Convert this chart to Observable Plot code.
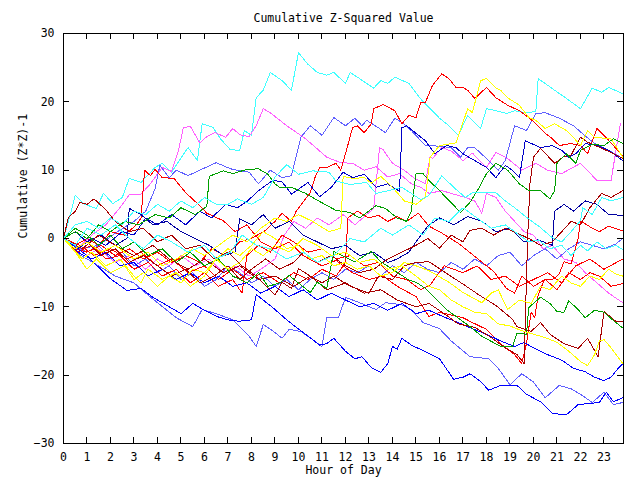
<!DOCTYPE html>
<html><head><meta charset="utf-8">
<script src="https://cdn.jsdelivr.net/npm/d3@7"></script>
<script src="https://cdn.jsdelivr.net/npm/@observablehq/plot@0.6"></script>
<style>
body{margin:0;background:#fff;}
svg path{shape-rendering:crispEdges}
</style></head><body><div id="chart"></div>
<script>
const hourTicks = [0,1,2,3,4,5,6,7,8,9,10,11,12,13,14,15,16,17,18,19,20,21,22,23];
const valueTicks = [-30,-20,-10,0,10,20,30];
const titleText = "Cumulative Z-Squared Value";
const xLabel = "Hour of Day";
const yLabel = "Cumulative (Z*Z)-1";

const cyan1 = [[0,0],[0.25,3],[0.5,6.3],[0.9,5],[1.4,4.4],[1.7,6.6],[2.1,5.1],[2.5,6],[2.8,8.8],[3.3,8.2],[3.9,10.4],[4.2,11],[4.6,9.7],[5.3,13.3],[5.7,11.4],[5.9,16.8],[6.35,16.3],[6.7,14.5],[7.1,13],[7.5,12.9],[7.7,15.8],[8,15.1],[8.2,20.6],[8.5,21.7],[8.8,24.3],[9.3,23.1],[9.7,21.7],[10,27.2],[10.4,25.5],[10.8,24.3],[11.2,23.9],[11.5,24.3],[12,22.7],[12.2,24.3],[12.6,23.4],[13.2,22],[13.5,23.1],[13.8,22.7],[14.1,23.6],[14.7,22.7],[15.25,20.2],[15.55,19.2],[16,17.6],[16.4,16.5],[16.8,15.1],[17.2,18],[17.75,16.1],[18,19],[18.4,18.7],[18.85,18.3],[19.2,18.7],[19.7,18.4],[20.1,18.6],[20.2,23.4],[20.9,21.7],[21.4,20.5],[22,19],[22.5,22],[22.9,21.4],[23.2,22.1],[23.8,21.2]];
const magenta1 = [[0,0],[0.6,-1.5],[1.2,0.5],[1.8,2],[2.4,4.5],[2.8,6.4],[3.3,6.5],[3.7,8],[4.2,10.4],[4.6,9.8],[4.9,13],[5.1,16.2],[5.4,16.4],[5.8,14],[6.1,14.9],[6.45,15.5],[6.9,14.8],[7.2,16.1],[7.5,15.2],[7.9,14.9],[8.2,16.5],[8.5,19],[8.8,18.4],[9.5,16.5],[10.3,14.6],[11.2,11.9],[11.8,11.1],[12.3,11],[12.8,10],[13.3,10.5],[13.8,9],[14.3,9.5],[14.8,8],[15.2,7.5],[15.55,6.6],[16.1,7],[16.5,6.6],[17.1,6],[17.5,5.5],[17.8,3.7],[18,6.6],[18.4,6],[18.8,4],[19.2,2.5],[19.6,1],[20,0.5],[20.4,-1.5],[20.8,-1],[21.3,-3],[21.8,-3.5],[22.2,-5],[22.7,-6.5],[23.2,-8],[23.8,-9.4]];
const magenta2 = [[0,0],[0.5,-1],[1,-2.5],[1.5,-1.5],[2.2,-3.5],[2.8,-2.5],[3.5,-4.5],[4,-3],[4.5,-4],[5,-2.5],[5.6,-4],[6.2,-3],[6.8,-5],[7.3,-4],[7.9,-5.5],[8.4,-4.5],[9,-3],[9.4,0.5],[9.8,2.5],[10.3,1.5],[10.8,3],[11.3,2],[11.9,3.5],[12.4,2],[12.9,3.5],[13.2,4.4],[13.45,13.3],[13.6,13],[14,11],[14.5,10],[14.9,8.9],[15.4,8],[15.6,12],[15.7,11.7],[16.1,13.3],[16.5,12.8],[17,11.4],[17.4,12.5],[18,10.4],[18.4,12.6],[18.9,11.7],[19.5,10],[20.1,11],[20.6,10],[21.2,9.5],[22,11],[22.7,8.5],[23.3,8.5],[23.7,16.8]];
const lightblue1 = [[0,0],[0.7,-1.5],[1.5,-1],[2.3,1],[3,2.5],[3.5,4],[3.9,7.3],[4.1,10.7],[4.5,8.9],[4.8,10],[5.3,9.2],[5.8,10],[6.5,11.1],[6.9,10.5],[7.2,10.1],[7.9,9.7],[8.3,8],[8.8,10],[9.3,8.9],[9.7,9.2],[10.1,14.8],[10.5,16.5],[11,15.1],[11.5,17.7],[12,16.5],[12.4,17.6],[12.7,16.5],[12.9,17.3],[13.4,16.2],[13.7,15.5],[14.1,17.6],[14.4,17],[14.8,15.8],[15.4,13.6],[15.55,13.6],[16,13.5],[16.5,13.3],[16.9,11.9],[17.2,13.3],[17.5,13.3],[18,11.7],[18.5,10],[18.8,11.4],[19.1,15.3],[19.2,16.5],[19.7,15.8],[20.1,18.3],[20.5,18.4],[21.1,17.6],[21.7,16.5],[22.1,15.3],[22.6,13.9],[23.2,12.9],[23.8,11.7]];
const lightblue2 = [[0,0],[0.7,-2.4],[1.5,-4],[2.2,-5.5],[3,-6.5],[3.5,-8],[4,-9.4],[4.8,-11.6],[5.5,-12.9],[5.9,-10.4],[6.5,-11],[7.2,-11.9],[7.5,-12.9],[7.9,-14.3],[8.2,-15.8],[8.5,-12.6],[8.9,-13.5],[9.3,-14.6],[9.6,-13.3],[10.1,-13.6],[10.6,-14.8],[11,-15.8],[11.2,-11.6],[11.7,-11.6],[12,-8.6],[12.6,-9.4],[13.3,-10.4],[13.7,-9.4],[14.4,-9.7],[14.8,-10.4],[15.3,-12.3],[16,-13.2],[16.5,-15],[17.3,-17.3],[18.1,-17.6],[18.5,-19],[19,-21.4],[19.5,-19.8],[20,-21],[20.5,-23.3],[21.1,-21.5],[21.6,-22],[22,-22.8],[22.5,-24],[23,-22.5],[23.4,-24.3],[23.8,-24]];
const lightblue3 = [[0,0],[0.5,-1],[1,-2],[1.5,-1],[2,-3],[2.5,-2],[3,-4],[3.5,-3],[4,-5],[4.5,-4],[5,-6],[5.5,-5],[6,-7],[6.5,-6],[7,-4],[7.5,-5],[8,-6.5],[8.5,-5.5],[9,-7],[9.5,-6],[10,-7.5],[10.5,-6],[11,-5],[11.5,-6],[12,-4.5],[12.5,-5],[13,-4],[13.5,-5.5],[14,-4],[14.5,-5],[15,-3.5],[15.5,-4.5],[16,-5],[16.5,-3.5],[17,-4.5],[17.5,-3],[18,-4],[18.5,-2.5],[19,-2],[19.5,-4],[20,-2.5],[20.5,-1.5],[21,-3],[21.5,-1.5],[22,-0.5],[22.5,-1],[23,-1.5],[23.5,-0.8],[23.8,0]];
const red1 = [[0,0],[0.5,-1.5],[1,-2],[1.6,-1],[2.2,-2.5],[2.8,-1.5],[3.4,-3],[4,-2],[4.6,-3.5],[5.2,-2.5],[5.8,-3.5],[6.3,-1.5],[6.9,-2.5],[7.5,-0.5],[8,0],[8.6,1.2],[9,2.5],[9.3,3.7],[9.7,2.5],[9.9,4],[10.5,6.7],[10.7,8.9],[10.9,10.4],[11.2,10.4],[11.6,11],[11.8,10],[12,12.4],[12.3,16.2],[12.5,16.5],[12.8,15.5],[13.1,16.8],[13.2,19],[13.6,19.6],[14.1,18.7],[14.4,16.8],[14.7,18],[15,17.7],[15.2,19.9],[15.4,19.9],[15.7,22.4],[16.1,24.1],[16.4,23.4],[16.7,22.1],[17,22.1],[17.2,21.7],[17.5,20.5],[18,22.1],[18.4,20.6],[18.9,19.5],[19.4,18.7],[19.8,17.7],[20.1,16.8],[20.5,15.4],[20.8,14.6],[21.1,13.6],[21.6,13.9],[22,13.6],[22.3,12.4],[22.7,16.1],[23,15.1],[23.4,13.6],[23.8,12.1]];
const red2 = [[0,0],[0.5,-1],[1,0],[1.5,-1],[2,1],[2.6,0.5],[3.1,2],[3.3,3],[3.45,10],[3.7,9.2],[3.9,10.1],[4.2,8.9],[4.7,8.8],[5.2,6.7],[5.8,4.8],[6.1,3.7],[6.8,2.6],[7.3,1],[7.8,2],[8.4,-0.5],[9,-1.5],[9.6,-0.5],[10.2,-2.5],[11,-4],[11.6,-3.2],[12.3,-5],[13,-6],[13.6,-5.5],[14.2,-7],[15,-8.5],[15.55,-11.4],[16,-10.8],[17,-11.6],[17.4,-12.3],[18,-13.3],[18.6,-15.4],[19.2,-17],[19.5,-18.3],[19.7,-15.4],[19.9,-10.8],[20.05,-11.6],[20.2,-8.3],[20.45,-6.1],[20.9,-5.9],[21.1,-5.1],[21.3,-3.4],[21.6,-3.7],[21.9,0],[22,2.6],[22.5,1.5],[22.8,1],[23.2,1.8],[23.8,1.1]];
const red3 = [[0,0],[0.7,-1],[1.3,-2.5],[2,-1.5],[2.7,-3],[3.3,-2],[4,-4],[4.6,-3],[5.3,-5],[6,-4],[6.6,-6],[7.2,-4.5],[7.8,-6],[8.5,-5],[9.2,-6.5],[9.8,-5],[10.4,-6],[11,-4.5],[11.6,-5.5],[12,-3.5],[12.1,3],[12.5,4],[13,3],[13.4,3.4],[13.8,2.5],[14.2,3.2],[14.6,2.5],[15.1,3.7],[15.55,1.8],[16,1],[16.8,-0.7],[17.6,-2.9],[18.3,-4.8],[18.85,-7.3],[19.2,-8],[19.5,-5.5],[20,-7],[20.5,-6],[21,-7.5],[21.5,-5],[22,-6],[22.4,-5],[22.8,-5.5],[23.3,-7],[23.8,-6.6]];
const red4 = [[0,0],[0.6,-2],[1.2,-1],[1.8,-3],[2.4,-2.5],[3,-4.5],[3.6,-3.5],[4.2,-5.5],[4.8,-4.5],[5.4,-6.5],[6,-5],[6.6,-7],[7.2,-6],[7.6,-8],[7.8,-2.5],[8.3,-1],[8.8,-2],[9.3,0.5],[9.8,-0.5],[10.4,-2],[11,-1.5],[11.6,-3],[12.2,-2.5],[12.8,-4],[13.4,-3.5],[14,-5.5],[14.6,-6],[15.2,-7.5],[15.6,-6.8],[16.2,-4],[17,-5],[17.6,-4],[18.2,-6],[18.8,-5.5],[19.4,-7],[20,-6],[20.6,-5],[21.2,-6.5],[21.8,-4],[22.4,-3],[23,-4.5],[23.8,-3]];
const blue1 = [[0,0],[0.7,-2.2],[1.1,-2.9],[2,-5.9],[2.7,-7.6],[3.3,-7.3],[3.8,-8.6],[4.5,-10],[5,-11],[5.5,-9.5],[6,-10.5],[6.6,-11.5],[7.1,-12],[7.5,-12.1],[8,-11.9],[8.2,-8.2],[8.9,-10.1],[9.5,-11.9],[9.9,-13],[10.3,-14],[10.9,-15.6],[11.2,-15.4],[11.5,-14.6],[12,-16.5],[12.4,-17.6],[12.7,-17.3],[13.1,-18.9],[13.5,-19.6],[13.8,-18.3],[14,-15.8],[14.2,-16.2],[14.4,-14.6],[14.8,-15.6],[15.3,-16.4],[16,-17.6],[16.6,-20.6],[17,-20.3],[17.3,-19.8],[17.7,-20.8],[18.1,-22.2],[18.6,-21.5],[19.3,-21.5],[19.7,-22.8],[20.3,-23.9],[20.8,-25.6],[21.4,-25.8],[21.9,-24.3],[22.8,-24],[23.1,-22.5],[23.4,-23.9],[23.8,-23.3]];
const blue2 = [[0,0],[0.6,-1.5],[1.2,0],[1.8,-1],[2.5,1],[3,0.5],[3.5,3],[4,2],[4.6,3.5],[5.2,2],[5.8,4],[6.3,3],[6.9,5],[7.4,4.5],[7.8,5.4],[8.3,7],[8.9,8.5],[9.3,8.3],[9.7,6.5],[10,7.2],[10.4,8.2],[10.9,6.1],[11.4,7.5],[11.9,9.7],[12.3,8.9],[12.8,9.4],[13.3,7.5],[13.8,8],[14.3,6.9],[14.4,16.2],[14.6,16.5],[15.4,14.3],[15.8,12.4],[16.3,13.6],[16.7,13.3],[17,12.4],[17.5,11.4],[18,10.4],[18.4,8.9],[18.8,10.7],[19.1,10],[19.4,8.9],[19.65,14.3],[20.3,13.3],[20.8,13.6],[21.2,12.9],[21.5,11.9],[21.8,12.4],[22.2,13.9],[22.75,13.6],[23.2,12.9],[23.8,11.4]];
const blue3 = [[0,0],[0.6,-1.5],[1.2,-3],[1.8,-2],[2.4,-4],[3,-3.5],[3.6,-5.5],[4.2,-4.5],[4.8,-6],[5.4,-5],[6,-6.5],[6.6,-5.5],[7.2,-7],[7.8,-6.5],[8.4,-8],[9,-7],[9.6,-8.5],[10.2,-7.5],[10.8,-9],[11.4,-8],[12,-9],[12.6,-10],[13.2,-9.5],[13.8,-10.5],[14.4,-9.5],[15,-11],[15.55,-10.5],[16.2,-11.5],[16.8,-12.3],[17.4,-13.2],[18,-14],[18.6,-15],[19.2,-15.8],[19.6,-15.2],[20,-16],[20.6,-17],[21.2,-17.8],[21.7,-19],[22.2,-19.5],[22.6,-20.3],[23,-20.8],[23.3,-20.3],[23.6,-19],[23.8,-18.3]];
const navy1 = [[0,0],[0.5,1],[1,-0.5],[1.6,0.5],[2.2,-1],[2.7,0],[2.8,4.4],[3.3,3.5],[3.8,2],[4.4,2.5],[5,1],[5.6,0],[6.2,-1],[6.8,-2.5],[7.3,-2],[7.5,2.9],[8,2],[8.5,3.5],[9,1.5],[9.6,2.5],[10.2,0.5],[10.8,-0.5],[11.4,-1.5],[12,-1],[12.6,-2.5],[13.2,-2],[13.8,-3.5],[14.2,-3],[14.7,-2],[15,-0.5],[15.5,1.8],[16,3],[16.6,2],[17.2,3.2],[17.8,2.5],[18.4,1],[19,1.5],[19.6,-0.5],[20.2,-0.2],[20.8,-1],[20.9,4],[21.3,5],[21.7,4],[22.2,5.5],[22.7,5],[23.2,3.5],[23.8,3.4]];
const darkred1 = [[0,0],[0.8,-1.5],[1.5,0.5],[2.2,-1],[3,-2.5],[3.8,-1],[4.5,-3],[5.3,-4.5],[6,-3],[6.8,-5],[7.5,-4],[8.3,-6],[9,-5.5],[9.8,-7],[10.5,-5.5],[11.2,-7.5],[12,-6.5],[12.8,-8],[13.5,-7.5],[14.2,-9],[15,-10],[15.55,-9.5],[16.2,-11],[16.8,-12.5],[17.5,-13],[18.2,-14.5],[18.8,-16],[19.3,-17],[19.6,-18.3],[19.75,0.1],[19.85,8],[20,11.9],[20.3,13.2],[20.9,11],[21.3,12],[21.6,12.2],[22,14.8],[22.3,14.1],[23.1,12.9],[23.8,11.7]];
const darkred2 = [[0,0],[0.2,3],[0.5,4],[0.7,5.3],[1,5],[1.3,5.8],[1.8,4.2],[2.2,2.5],[2.8,1],[3.4,1.5],[4,-0.5],[4.6,0.5],[5.2,-1.5],[5.8,-1],[6.4,-3],[7,-2],[7.6,-4],[8.2,-5.5],[8.6,-6.9],[9,-8.3],[9.3,-6.4],[9.7,-7.3],[10,-4.4],[10.5,-5.5],[11,-6.5],[11.5,-5.5],[12.2,-7],[13,-8],[13.4,-5.5],[14,-6],[14.5,-4],[15,-3.5],[15.55,-3.4],[16.3,-5.1],[17.1,-6.9],[17.7,-8.3],[18.4,-9.8],[19.1,-11.8],[19.3,-12.9],[19.9,-13.6],[20.3,-12.3],[20.7,-14],[21.3,-15.4],[21.9,-16.1],[22.3,-14.6],[22.75,-17.3],[23,-10.7],[23.5,-12.1],[23.8,-12.1]];
const darkred3 = [[0,0],[0.5,-1.5],[1,-0.5],[1.6,-2.5],[2.2,-1.5],[2.8,-3.5],[3.4,-2.5],[4,-4],[4.6,-5.5],[5.2,-4.5],[5.8,-6.5],[6.4,-5.5],[7,-4],[7.5,-6],[8,-4.5],[8.6,-3],[9.2,-4.5],[9.8,-3.5],[10.2,-2],[10.8,-3.5],[11.4,-2.5],[12,-4],[12.6,-5],[13.2,-4.5],[13.8,-3],[14.4,-2],[15,-1],[15.5,0],[16,-1.4],[16.5,0.5],[17,-0.5],[17.3,1.2],[17.8,1.5],[18.3,0.5],[18.8,1.5],[19.3,0.8],[19.8,0],[20.3,-1],[20.8,-0.5],[21.2,1],[21.6,2.5],[22,2],[22.4,4.5],[22.9,6.6],[23.3,6],[23.8,7]];
const green1 = [[0,0],[0.5,1],[1,0],[1.5,2],[2,1],[2.6,2.5],[3.2,2],[3.9,3.5],[4.5,3],[5,4.5],[5.6,3.5],[6.1,4.7],[6.2,9.1],[6.8,9.9],[7.2,9.5],[7.8,10.1],[8.3,10.2],[8.7,9.4],[9,8],[9.2,7.5],[9.7,7.5],[10.3,6.6],[10.8,5.6],[11.6,4.1],[12.2,3.8],[12.6,3],[13.3,4.8],[13.7,4.4],[14.2,3],[14.6,2.5],[14.8,4],[15,9.5],[15.3,9.5],[15.55,8.5],[16,7],[16.9,3.8],[17.3,5.3],[17.7,7.5],[18,9.5],[18.4,11],[18.9,10],[19.4,8],[19.8,7],[20.3,7],[20.7,5.8],[20.9,7],[21,11],[21.4,12.4],[21.8,11],[22,12.9],[22.5,13.8],[23,13.6],[23.4,14.6],[23.8,13.9]];
const green2 = [[0,0],[0.5,1.5],[1,0.5],[1.5,-1],[2,0.5],[2.5,-1.5],[3,-0.5],[3.6,-2.5],[4.2,-1.5],[4.8,-3.5],[5.4,-2],[6,-4],[6.6,-3],[7.2,-5.5],[7.8,-6.5],[8.3,-5],[8.7,-7],[9.2,-6.5],[9.6,-5.4],[10.5,-7.9],[10.8,-6.4],[11.2,-7.3],[11.5,-1.9],[11.9,-2.6],[12.4,-3.4],[13.1,-1.9],[13.5,-3.4],[14,-4.5],[14.7,-6.1],[15,-6.4],[15.4,-7.3],[16,-9.4],[16.3,-10.4],[17.3,-12.9],[17.8,-14.3],[18.6,-15.8],[19.1,-15.8],[19.3,-13.9],[19.7,-14],[19.8,-10.1],[20.3,-8.6],[20.7,-9.5],[21,-10.7],[21.3,-10.8],[21.5,-9.1],[21.9,-10.4],[22.2,-11.6],[22.6,-10.5],[23,-10.8],[23.4,-12],[23.8,-13.1]];
const yellow1 = [[0,0],[0.5,-1.5],[1,-0.5],[1.6,-2],[2.2,-1],[3,-3],[3.6,-2],[4.2,-4],[4.8,-3],[5.5,-1.5],[6,-2.5],[6.6,-1],[7.2,0.5],[7.8,-0.5],[8.4,1.5],[9,3],[9.5,2.5],[10,3.5],[10.6,2.5],[11.3,1],[11.8,1.5],[11.9,9.1],[12.3,8.8],[12.8,8.9],[13.1,8.1],[13.5,9.1],[14,7.5],[14.5,5.5],[15,5],[15.4,6],[15.5,8.9],[15.6,11.9],[16,13.6],[16.7,14],[16.95,16.5],[17.2,19],[17.4,18.4],[17.75,23.1],[18,23.4],[18.4,22],[18.6,21.7],[18.9,20.6],[19.4,19.5],[19.8,17.7],[20.1,17.3],[20.5,16.1],[20.9,16.8],[21.4,15.8],[21.7,14.8],[22,13.6],[22.3,15.8],[22.6,14.8],[23.3,14.6],[23.8,11.9]];
const yellow2 = [[0,0],[0.4,-1.5],[0.8,-3],[1.2,-2],[1.8,-4],[2.4,-3],[3,-5.5],[3.3,-6.5],[3.6,-4.5],[4.2,-6],[4.8,-5],[5.4,-7],[6,-5.5],[6.5,-3],[7,-4.5],[7.5,-3.5],[8,-1.5],[8.5,-2.5],[9,-1],[9.6,-2],[10.2,0],[10.8,-1],[11.4,-2.5],[12,-2],[12.6,-3.5],[13.2,-3],[13.8,-4.5],[14.4,-4],[15,-5.5],[15.55,-7],[16,-7.5],[16.5,-9],[17,-10],[17.5,-10.8],[18,-11],[18.5,-12.5],[19,-12.8],[19.5,-13.5],[20,-14],[20.5,-14.5],[21,-15.2],[21.5,-16.5],[22,-18],[22.3,-18.6],[22.6,-17],[22.8,-15],[23,-14.8],[23.3,-16],[23.8,-18.3]];
const yellow3 = [[0,0],[0.5,-2],[1,-4.5],[1.4,-3],[2,-5],[2.6,-4],[3,-6],[3.4,-5],[4,-7],[4.5,-5.5],[5,-6.5],[5.5,-4.5],[6,-5],[6.5,-3],[7,-1.5],[7.5,-2.5],[8,-1],[8.5,1],[9,0],[9.5,-1.5],[10,-1],[10.5,-3],[11,-2.5],[11.5,-4],[12,-3.5],[12.5,-4.5],[13,-4],[13.5,-5.5],[14,-5],[14.5,-3.5],[15,-4],[15.55,-4.7],[16.4,-6.4],[17,-7.9],[17.8,-9.4],[18.2,-8],[18.5,-7.5],[18.9,-10.4],[19.4,-9],[19.9,-9.5],[20.3,-7],[20.7,-7.5],[21.2,-5.5],[21.6,-6.5],[22,-7],[22.4,-5.5],[22.8,-6],[23.2,-4.5],[23.5,-5.2],[23.8,-5.5]];
const cyan2 = [[0,0],[0.5,2],[1,2.5],[1.5,1.5],[2,3],[2.5,2],[3,4],[3.5,3.5],[4,5],[4.5,4],[5,5.5],[5.5,4.5],[6,6],[6.5,5],[7,5],[7.4,5.8],[8,5],[8.5,6],[9,9],[9.5,10.8],[10,9.4],[10.6,9.9],[11.3,9.7],[11.6,8.4],[12.2,7.9],[12.9,8.2],[13.3,6.6],[13.7,6.9],[14.4,7.5],[15.2,5.7],[15.55,6.3],[16.1,9.2],[16.6,7.5],[17.1,6],[17.4,6.7],[18.4,6.7],[18.8,5.5],[19.2,4.5],[19.7,3.1],[20.3,1.6],[20.8,0.1],[21.2,-0.5],[21.6,1],[22,2.6],[22.1,4.5],[22.5,3.5],[22.9,6],[23.3,5.5],[23.8,6]];
const cyan3 = [[0,0],[0.5,-1],[1,1.5],[1.6,0.5],[2.2,2],[2.8,0],[3.4,-1.5],[4,0.5],[4.6,-0.5],[5.3,-2],[6,-1],[6.5,-3],[7.1,-2],[7.6,0.5],[8.2,-1],[8.8,-1.5],[9.5,-3],[10.2,-2],[10.8,-3.5],[11.5,-2.5],[12.2,0],[12.8,-0.5],[13.5,1.5],[14,0.5],[14.7,2],[15.3,0.5],[15.8,3],[16.4,2.5],[17,4.5],[17.6,3],[18.2,1.5],[18.8,2],[19.4,0.5],[19.8,-0.5],[20.2,-0.2],[20.7,-1.5],[21.2,-1],[21.6,-2.5],[22,-1],[22.3,-1.8],[22.7,-0.5],[23.1,-1.5],[23.5,-1],[23.8,-1.6]];

const seriesList = [cyan1, magenta1, magenta2, lightblue1, lightblue2, lightblue3, red1, red2, red3, red4, blue1, blue2, blue3, navy1, darkred1, darkred2, darkred3, green1, green2, yellow1, yellow2, yellow3, cyan2, cyan3];
const seriesColors = ["#40ffff","#ff60ff","#ff60ff","#6060ff","#6060ff","#6060ff","#ff0000","#ff0000","#ff0000","#ff0000","#0000ff","#0000c8","#0000ff","#0000a0","#a80000","#a80000","#a80000","#00a000","#00a000","#ffff00","#ffff00","#ffff00","#40ffff","#40ffff"];

const rows = seriesList.flatMap((pts, i) => pts.map(([h, v]) => ({id: i, hour: h, value: v, color: seriesColors[i]})));
const font = "'DejaVu Sans Mono', monospace";

const chart = Plot.plot({
  width: 640, height: 480,
  marginLeft: 63, marginRight: 17, marginTop: 33, marginBottom: 37,
  style: {fontFamily: font, fontSize: "11.5px", background: "white", color: "black"},
  x: {domain: [0, 23.83]},
  y: {domain: [-30, 30]},
  color: {type: "identity"},
  marks: [
    Plot.line(rows, {x: "hour", y: "value", z: "id", stroke: "color", strokeWidth: 1}),
    Plot.frame({stroke: "black"}),
    Plot.axisX(hourTicks, {anchor: "bottom", tickSize: 0, tickPadding: 9, label: null, fontSize: 11.5}),
    Plot.axisY(valueTicks, {anchor: "left", tickSize: 0, tickPadding: 9, label: null, fontSize: 11.5}),
    Plot.text([titleText], {frameAnchor: "top", dy: -20, fontSize: 11.5}),
    Plot.text([xLabel], {frameAnchor: "bottom", dy: 30, fontSize: 11.5}),
    Plot.text([yLabel], {frameAnchor: "left", dx: -40, rotate: -90, fontSize: 11.5})
  ]
});

// inward tick marks placed with the chart's own scales
const sx = chart.scale("x"), sy = chart.scale("y");
const svg = d3.select(chart);
const g = svg.append("g").attr("stroke", "black").attr("stroke-width", 1).attr("shape-rendering", "crispEdges");
const yb = sy.apply(-30), yt = sy.apply(30), xl = sx.apply(0), xr = sx.apply(23.83);
for (const h of hourTicks) {
  const x = Math.round(sx.apply(h)) + 0.5;
  g.append("line").attr("x1", x).attr("x2", x).attr("y1", yb).attr("y2", yb - 6);
  g.append("line").attr("x1", x).attr("x2", x).attr("y1", yt).attr("y2", yt + 6);
}
for (const v of valueTicks) {
  const y = Math.round(sy.apply(v)) + 0.5;
  g.append("line").attr("x1", xl).attr("x2", xl + 6).attr("y1", y).attr("y2", y);
  g.append("line").attr("x1", xr).attr("x2", xr - 6).attr("y1", y).attr("y2", y);
}
document.getElementById("chart").appendChild(chart);
</script></body></html>
